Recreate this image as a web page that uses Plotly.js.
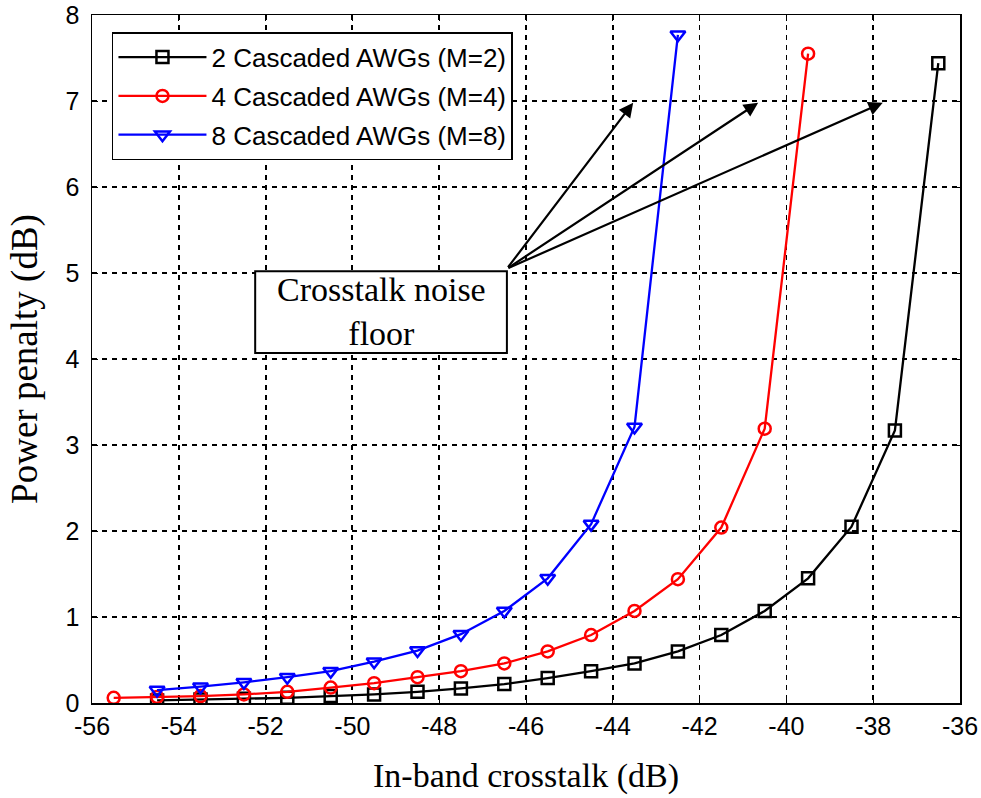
<!DOCTYPE html>
<html>
<head>
<meta charset="utf-8">
<script src="https://cdn.plot.ly/plotly-3.0.1.min.js"></script>
<style>html,body{margin:0;padding:0;background:#fff;}#chart{width:981px;height:798px;}</style>
</head>
<body>
<div id="chart"></div>
<script>
// In-band crosstalk (dB)
const xM2 = [-54.5,-53.5,-52.5,-51.5,-50.5,-49.5,-48.5,-47.5,-46.5,-45.5,-44.5,-43.5,-42.5,-41.5,-40.5,-39.5,-38.5,-37.5,-36.5];
const yM2 = [0.03,0.04,0.05,0.06,0.08,0.10,0.13,0.17,0.22,0.29,0.37,0.46,0.60,0.79,1.07,1.45,2.05,3.17,7.44];
const xM4 = [-55.5,-54.5,-53.5,-52.5,-51.5,-50.5,-49.5,-48.5,-47.5,-46.5,-45.5,-44.5,-43.5,-42.5,-41.5,-40.5,-39.5];
const yM4 = [0.06,0.07,0.08,0.10,0.13,0.18,0.23,0.30,0.37,0.46,0.60,0.79,1.07,1.44,2.04,3.19,7.55];
const xM8 = [-54.5,-53.5,-52.5,-51.5,-50.5,-49.5,-48.5,-47.5,-46.5,-45.5,-44.5,-43.5,-42.5];
const yM8 = [0.15,0.19,0.24,0.30,0.37,0.48,0.61,0.80,1.07,1.45,2.08,3.21,7.77];
const seriesNames = ['2 Cascaded AWGs (M=2)','4 Cascaded AWGs (M=4)','8 Cascaded AWGs (M=8)'];
const xTicks = [-56,-54,-52,-50,-48,-46,-44,-42,-40,-38,-36];
const yTicks = [0,1,2,3,4,5,6,7,8];
// annotation: noise floor label and arrows
const noteText = 'Crosstalk noise<br>floor';
const arrowTail = [-46.44, 5.05];
const arrowTipsX = [-43.53, -40.65, -37.78];
const arrowTipsY = [6.98, 6.98, 6.98];

const serif = '"Times New Roman", "Liberation Serif", serif';
const sans = 'Arial, "Liberation Sans", sans-serif';

const traces = [
  {x:xM2, y:yM2, name:seriesNames[0], legendgroup:'a', mode:'lines+markers', type:'scatter',
   line:{color:'#000000', width:2.3}, marker:{symbol:'square-open', size:12, color:'#000000', line:{width:2.5}}},
  {x:xM4, y:yM4, name:seriesNames[1], legendgroup:'b', mode:'lines+markers', type:'scatter',
   line:{color:'#ff0000', width:2.3}, marker:{symbol:'circle-open', size:12, color:'#ff0000', line:{width:2.5}}},
  {x:xM8, y:yM8, name:seriesNames[2], legendgroup:'c', mode:'lines+markers', type:'scatter',
   line:{color:'#0000ff', width:2.3}, marker:{symbol:'triangle-down-open', size:13, color:'#0000ff', line:{width:2.5}}}
];

const annotations = arrowTipsX.map((tx,i)=>({
  x:tx, y:arrowTipsY[i], xref:'x', yref:'y', ax:arrowTail[0], ay:arrowTail[1], axref:'x', ayref:'y',
  text:'', showarrow:true, arrowhead:2, arrowsize:1.3, arrowwidth:2.2, arrowcolor:'#000000'
}));
annotations.push({x:-49.34, y:4.55, xref:'x', yref:'y', text:noteText, showarrow:false,
  font:{family:serif, size:34, color:'#000000'}, align:'center'});

const layout = {
  width:981, height:798,
  margin:{l:92, r:21, t:15, b:95},
  paper_bgcolor:'#ffffff', plot_bgcolor:'#ffffff',
  showlegend:true,
  legend:{x:0.023, y:0.975, xanchor:'left', yanchor:'top', bgcolor:'#ffffff',
    bordercolor:'#000000', borderwidth:1.5, font:{family:sans, size:26, color:'#000000'},
    traceorder:'grouped', tracegroupgap:2, itemwidth:88},
  xaxis:{range:[-56,-36], tickvals:xTicks, ticktext:xTicks.map(String), showline:true, mirror:'ticks',
    linecolor:'#000000', linewidth:1.5, ticks:'inside', ticklen:6, tickcolor:'#000000',
    showgrid:true, gridcolor:'#000000', gridwidth:1.8, griddash:'5px,5px', zeroline:false,
    tickfont:{family:sans, size:25, color:'#000000'},
    title:{text:'In-band crosstalk (dB)', font:{family:serif, size:34, color:'#000000'}, standoff:24}},
  yaxis:{range:[0,8], tickvals:yTicks, showline:true, mirror:'ticks',
    linecolor:'#000000', linewidth:1.5, ticks:'inside', ticklen:6, tickcolor:'#000000',
    showgrid:true, gridcolor:'#000000', gridwidth:1.8, griddash:'5px,5px', zeroline:false,
    tickfont:{family:sans, size:25, color:'#000000'}, ticklabelstandoff:6,
    title:{text:'Power penalty (dB)', font:{family:serif, size:37, color:'#000000'}, standoff:16}},
  shapes:[{type:'rect', xref:'x', yref:'y', x0:-52.24, x1:-46.44, y0:4.07, y1:5.02,
    line:{color:'#000000', width:2}, fillcolor:'#ffffff', layer:'above'}],
  annotations:annotations
};

Plotly.newPlot('chart', traces, layout, {displayModeBar:false, staticPlot:true});
</script>
</body>
</html>
